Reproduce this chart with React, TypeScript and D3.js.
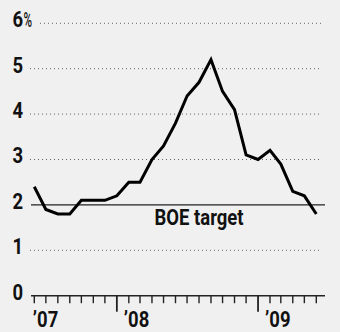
import React from "react";
import * as d3 from "d3";

// UK CPI inflation, monthly, % year on year
const months = [
  "2007-06", "2007-07", "2007-08", "2007-09", "2007-10", "2007-11", "2007-12",
  "2008-01", "2008-02", "2008-03", "2008-04", "2008-05", "2008-06", "2008-07",
  "2008-08", "2008-09", "2008-10", "2008-11", "2008-12",
  "2009-01", "2009-02", "2009-03", "2009-04", "2009-05", "2009-06",
];
const cpi = [
  2.4, 1.9, 1.8, 1.8, 2.1, 2.1, 2.1,
  2.2, 2.5, 2.5, 3.0, 3.3, 3.8, 4.4,
  4.7, 5.2, 4.5, 4.1, 3.1,
  3.0, 3.2, 2.9, 2.3, 2.2, 1.8,
];
const yTicks = [0, 1, 2, 3, 4, 5, 6];
const years = [2007, 2008, 2009];
const yearLabels = ["\u201907", "\u201908", "\u201909"];
const target = 2;
const targetLabel = "BOE target";

const W = 340;
const H = 332;
const FONT = "Roboto, 'DejaVu Sans', sans-serif";
const SX = 0.84; // squeeze to mimic the condensed face

function Label({ x, y, anchor = "start", size = 22, sx = SX, weight = "bold", children }: any) {
  return (
    <text
      transform={`translate(${x},${y}) scale(${sx},1)`}
      textAnchor={anchor}
      fontSize={size}
      fontWeight={weight}
      fill="#111"
    >
      {children}
    </text>
  );
}

export default function App() {
  const parse = d3.timeParse("%Y-%m");
  const dates = months.map((m) => parse(m) as Date);

  const x = d3
    .scaleTime()
    .domain([dates[0], dates[dates.length - 1]])
    .range([34.3, 316.3]);
  const y = d3.scaleLinear().domain([0, 6]).range([295.7, 23.3]);

  const line = d3
    .line<number>()
    .x((_, i) => x(dates[i]))
    .y((d) => y(d));

  const tickDates = d3.timeMonth.range(dates[0], d3.timeMonth.offset(dates[dates.length - 1], 1));

  return (
    <svg
      width={W}
      height={H}
      style={{ position: "absolute", left: 0, top: 0, background: "#f0f0f0" }}
      fontFamily={FONT}
    >
      <rect width={W} height={H} fill="#f0f0f0" />
      {/* gridlines */}
      {yTicks.filter((t) => t !== 0 && t !== target).map((t) => (
        <line
          key={t}
          x1={t === 6 ? 40 : 30}
          x2={322}
          y1={y(t)}
          y2={y(t)}
          stroke="#666"
          strokeWidth={1}
          strokeDasharray="1,3"
        />
      ))}
      {/* y labels */}
      {yTicks.map((t) => (
        <Label key={t} x={12.5} y={y(t) + 3.8}>
          {t}
        </Label>
      ))}
      <Label x={23.5} y={y(6) + 3.8} size={20} sx={0.58} weight={500}>
        %
      </Label>
      {/* target line */}
      <line x1={31} x2={325} y1={y(target)} y2={y(target)} stroke="#222" strokeWidth={1.2} />
      <Label x={199} y={y(target) + 20} anchor="middle">
        {targetLabel}
      </Label>
      {/* x axis */}
      <line x1={31} x2={325} y1={y(0)} y2={y(0)} stroke="#222" strokeWidth={1.6} />
      {tickDates.map((d, i) => {
        const major = d.getMonth() === 0;
        return (
          <line
            key={i}
            x1={x(d)}
            x2={x(d)}
            y1={y(0)}
            y2={y(0) + (major ? 16 : 7.5)}
            stroke="#222"
            strokeWidth={major ? 1.8 : 1.4}
          />
        );
      })}
      {years.map((yr, i) => {
        const jan = new Date(yr, 0, 1);
        const px = jan < dates[0] ? x(dates[0]) - 1.5 : x(jan) + 7;
        return (
          <Label key={yr} x={px} y={326.5}>
            {yearLabels[i]}
          </Label>
        );
      })}
      {/* CPI line */}
      <path d={line(cpi) || ""} fill="none" stroke="#000" strokeWidth={3} strokeLinejoin="miter" />
    </svg>
  );
}
